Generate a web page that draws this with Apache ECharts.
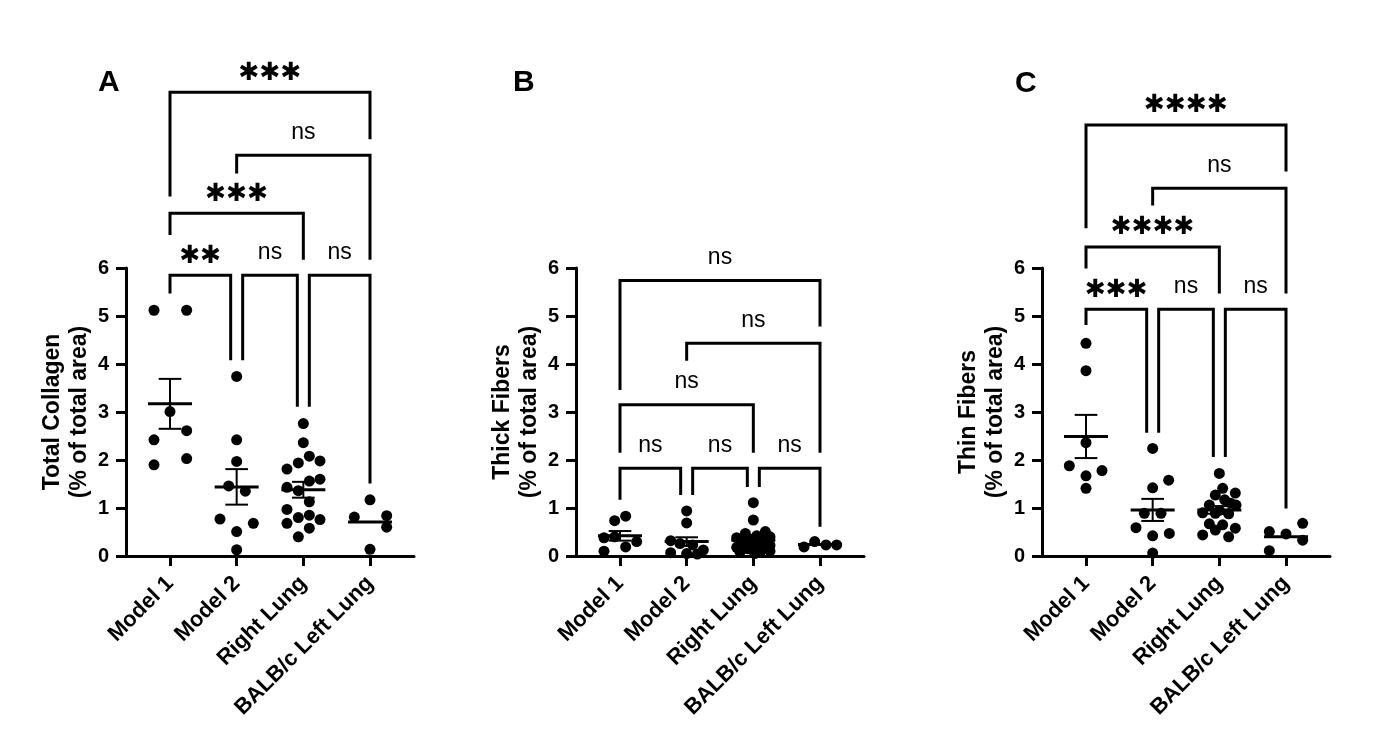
<!DOCTYPE html>
<html>
<head>
<meta charset="utf-8">
<script src="https://cdn.jsdelivr.net/npm/echarts@6/dist/echarts.min.js"></script>
<style>
  html, body { margin: 0; padding: 0; background: #fff; }
  #chart { width: 1376px; height: 746px; }
</style>
</head>
<body>
<div id="chart"></div>
<script>
const categories = ['Model 1', 'Model 2', 'Right Lung', 'BALB/c Left Lung'];
const yTicks = [0, 1, 2, 3, 4, 5, 6];

// A - total collagen, one list per group
const collagenValues = [
  [5.12, 5.12, 3.01, 2.61, 2.42, 2.03, 1.90],
  [3.74, 2.42, 1.97, 1.46, 1.35, 0.77, 0.68, 0.51, 0.13],
  [2.76, 2.36, 2.08, 1.98, 1.94, 1.81, 1.60, 1.56, 1.43, 1.36, 1.13, 0.97, 0.85, 0.80, 0.76, 0.68, 0.58, 0.40],
  [1.17, 0.81, 0.84, 0.60, 0.14]
];
const collagenJitter = [
  [-0.24, 0.25, 0, 0.25, -0.24, 0.25, -0.24],
  [0, 0, 0, -0.12, 0.13, -0.25, 0.25, 0, 0],
  [0, 0, 0.09, 0.25, -0.075, -0.245, 0.25, 0.09, -0.245, -0.075, 0.09, -0.245, 0.09, -0.075, 0.25, -0.245, 0.09, -0.075],
  [0, -0.235, 0.25, 0.25, 0]
];
const collagenMean = [3.17, 1.44, 1.38, 0.71];
const collagenSem = [0.52, 0.37, 0.165, 0];

// B - thick fibers
const thickValues = [
  [0.735, 0.83, 0.38, 0.40, 0.19, 0.30, 0.10],
  [0.94, 0.69, 0.32, 0.26, 0.23, 0.125, 0.07, 0.05, 0.04],
  [1.11, 0.75, 0.51, 0.47, 0.42, 0.40, 0.38, 0.35, 0.30, 0.28, 0.25, 0.22, 0.18, 0.15, 0.12, 0.10, 0.08, 0.05],
  [0.19, 0.30, 0.23, 0.23]
];
const thickJitter = [
  [-0.08, 0.085, -0.24, -0.08, 0.085, 0.25, -0.24],
  [0, 0, -0.24, -0.1, 0.09, 0.25, -0.24, 0, 0.16],
  [0, 0, 0.18, -0.12, 0.05, 0.25, -0.25, -0.05, 0.15, -0.18, 0.02, 0.25, -0.25, -0.08, 0.12, 0.25, -0.2, 0.02],
  [-0.24, -0.08, 0.09, 0.25]
];
const thickMean = [0.42, 0.30, 0.33, 0.24];
const thickSem = [0.10, 0.09, 0.06, 0];

// C - thin fibers
const thinValues = [
  [4.43, 3.86, 2.36, 1.88, 1.78, 1.67, 1.41],
  [2.24, 1.58, 1.42, 0.89, 0.89, 0.59, 0.47, 0.42, 0.06],
  [1.72, 1.41, 1.31, 1.27, 1.17, 1.10, 1.06, 1.06, 0.95, 0.90, 0.89, 0.88, 0.67, 0.65, 0.58, 0.54, 0.44, 0.40],
  [0.51, 0.46, 0.68, 0.33, 0.11]
];
const thinJitter = [
  [0, 0, 0, -0.25, 0.24, 0, 0],
  [0, 0.24, 0, -0.125, 0.125, -0.25, 0.25, 0, 0],
  [0, 0.05, 0.24, -0.06, 0.08, 0.17, -0.15, 0.25, 0, -0.25, -0.06, 0.14, -0.15, 0.05, 0.24, -0.06, -0.25, 0.14],
  [-0.25, 0, 0.25, 0.25, -0.25]
];
const thinMean = [2.49, 0.96, 0.96, 0.40];
const thinSem = [0.45, 0.23, 0.08, 0];

// comparisons: [from, to, bar level, left drop, right drop, label]
const collagenBrackets = [
  [0, 3, 9.66, 7.49, 8.68, '***'],
  [1, 3, 8.35, 7.97, 6.17, 'ns'],
  [0, 2, 7.14, 6.69, 6.17, '***'],
  [0, 0.91, 5.85, 5.47, 4.08, '**'],
  [1.09, 1.91, 5.85, 4.08, 3.11, 'ns'],
  [2.09, 3, 5.85, 3.11, 1.51, 'ns']
];
const thickBrackets = [
  [0, 3, 5.74, 3.46, 4.78, 'ns'],
  [1, 3, 4.43, 4.07, 2.15, 'ns'],
  [0, 2, 3.15, 2.15, 2.15, 'ns'],
  [0, 0.91, 1.83, 1.17, 1.27, 'ns'],
  [1.09, 1.91, 1.83, 1.27, 1.44, 'ns'],
  [2.09, 3, 1.83, 1.44, 0.61, 'ns']
];
const thinBrackets = [
  [0, 3, 8.98, 6.83, 8.01, '****'],
  [1, 3, 7.66, 7.30, 5.47, 'ns'],
  [0, 2, 6.44, 5.99, 5.47, '****'],
  [0, 0.91, 5.14, 4.81, 2.57, '***'],
  [1.09, 1.91, 5.14, 2.57, 2.06, 'ns'],
  [2.09, 3, 5.14, 2.06, 0.99, 'ns']
];

const FONT = 'Liberation Sans, Arial, sans-serif';
const chart = echarts.init(document.getElementById('chart'));

const grids = [], xAxes = [], yAxes = [], series = [];

function addPanel(i, left, yName, values, jitter, means, sems, brackets) {
  grids.push({ left: left, top: 268, width: 288, height: 288, containLabel: false, outerBoundsMode: 'none' });
  xAxes.push({
    type: 'value', gridIndex: i, min: -0.66, max: 3.66,
    splitLine: { show: false },
    axisLine: { onZero: false, lineStyle: { color: '#000', width: 3 } },
    axisTick: { customValues: [0, 1, 2, 3], length: 10, lineStyle: { color: '#000', width: 3 } },
    axisLabel: {
      customValues: [0, 1, 2, 3], rotate: 45, margin: 24,
      formatter: v => categories[Math.round(v)],
      color: '#000', fontSize: 22, fontWeight: 'bold', fontFamily: FONT
    }
  });
  yAxes.push({
    type: 'value', gridIndex: i, min: yTicks[0], max: yTicks[yTicks.length - 1], interval: 1,
    name: yName, nameLocation: 'middle', nameRotate: 90, nameGap: 33,
    nameTextStyle: { color: '#000', fontSize: 23, fontWeight: 'bold', fontFamily: FONT, lineHeight: 27 },
    splitLine: { show: false },
    axisLine: { show: true, onZero: false, lineStyle: { color: '#000', width: 3 } },
    axisTick: { show: true, length: 10, lineStyle: { color: '#000', width: 3 } },
    axisLabel: { margin: 17, color: '#000', fontSize: 20, fontWeight: 'bold', fontFamily: FONT }
  });

  const pts = [];
  values.forEach((g, c) => g.forEach((v, k) => pts.push([c + jitter[c][k], v])));
  series.push({
    type: 'scatter', xAxisIndex: i, yAxisIndex: i, data: pts,
    symbol: 'circle', symbolSize: 11, itemStyle: { color: '#000', opacity: 1 },
    silent: true, z: 2
  });

  series.push({
    type: 'custom', xAxisIndex: i, yAxisIndex: i, z: 3, silent: true,
    data: means.map((m, c) => [c, m, sems[c]]),
    encode: { x: 0, y: 1 },
    renderItem: (params, api) => {
      const x = api.value(0), m = api.value(1), s = api.value(2);
      const a = api.coord([x - 0.33, m]), b = api.coord([x + 0.33, m]);
      const kids = [{ type: 'line', shape: { x1: a[0], y1: a[1], x2: b[0], y2: b[1] }, style: { stroke: '#000', lineWidth: 3 } }];
      if (s > 0) {
        const t = api.coord([x, m + s]), d = api.coord([x, m - s]);
        const cw = api.coord([x + 0.17, m])[0] - t[0];
        kids.push({ type: 'line', shape: { x1: t[0], y1: t[1], x2: d[0], y2: d[1] }, style: { stroke: '#000', lineWidth: 2 } });
        kids.push({ type: 'line', shape: { x1: t[0] - cw, y1: t[1], x2: t[0] + cw, y2: t[1] }, style: { stroke: '#000', lineWidth: 2 } });
        kids.push({ type: 'line', shape: { x1: d[0] - cw, y1: d[1], x2: d[0] + cw, y2: d[1] }, style: { stroke: '#000', lineWidth: 2 } });
      }
      return { type: 'group', children: kids };
    }
  });

  series.push({
    type: 'custom', xAxisIndex: i, yAxisIndex: i, z: 4, silent: true, clip: false,
    data: brackets.map(b => [b[0], b[2]]),
    encode: { x: 0, y: 1 },
    renderItem: (params, api) => {
      const b = brackets[params.dataIndex];
      const p1 = api.coord([b[0], b[3]]), p2 = api.coord([b[0], b[2]]);
      const p3 = api.coord([b[1], b[2]]), p4 = api.coord([b[1], b[4]]);
      const stars = b[5].indexOf('*') >= 0;
      return {
        type: 'group',
        children: [
          { type: 'polyline', shape: { points: [p1, p2, p3, p4] }, style: { stroke: '#000', lineWidth: 3, fill: null } },
          {
            type: 'text',
            style: {
              text: stars ? b[5].replace(/\*/g, '\u2731') : b[5],
              x: (p2[0] + p3[0]) / 2, y: p2[1] - (stars ? 19 : 23),
              align: 'center', verticalAlign: 'middle',
              font: stars ? 'bold 25px DejaVu Sans' : '23px ' + FONT,
              fill: '#000'
            }
          }
        ]
      };
    }
  });
}

addPanel(0, 126, 'Total Collagen\n(% of total area)', collagenValues, collagenJitter, collagenMean, collagenSem, collagenBrackets);
addPanel(1, 576, 'Thick Fibers\n(% of total area)', thickValues, thickJitter, thickMean, thickSem, thickBrackets);
addPanel(2, 1042, 'Thin Fibers\n(% of total area)', thinValues, thinJitter, thinMean, thinSem, thinBrackets);

const letterStyle = { color: '#000', fontSize: 30, fontWeight: 'bold', fontFamily: FONT };
chart.setOption({
  backgroundColor: '#fff',
  animation: false,
  title: [
    { text: 'A', left: 98, top: 68, textStyle: letterStyle, padding: 0 },
    { text: 'B', left: 513, top: 68, textStyle: letterStyle, padding: 0 },
    { text: 'C', left: 1015, top: 69, textStyle: letterStyle, padding: 0 }
  ],
  grid: grids,
  xAxis: xAxes,
  yAxis: yAxes,
  series: series
});
</script>
</body>
</html>
